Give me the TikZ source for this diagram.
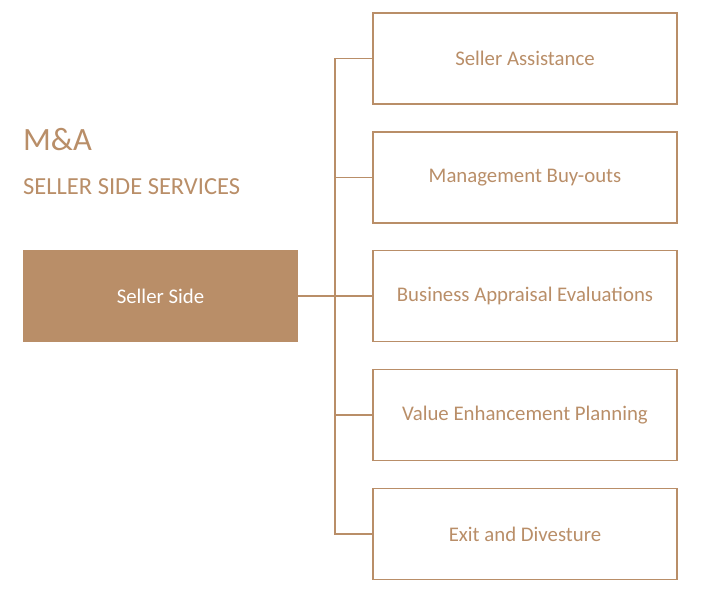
\documentclass[tikz,border=0pt]{standalone}
\usepackage{fontspec}
\setmainfont{Carlito}
\definecolor{tan}{HTML}{B98E68}
\begin{document}
\begin{tikzpicture}[x=1pt, y=-1pt,
    servicebox/.style = {draw=tan, line width=1.6pt, minimum width=304pt, minimum height=91pt,
                         inner sep=0pt, text=tan, font=\fontsize{20.8}{24}\selectfont},
    link/.style = {draw=tan, line width=1.6pt}]
    \useasboundingbox (0,0) rectangle (702,604);

    \node[anchor=base west, text=tan, inner sep=0pt, font=\fontsize{32.5}{36}\selectfont] (title) at (23,151) {M\&A};
    \node[anchor=base west, text=tan, inner sep=0pt, font=\fontsize{24.5}{28}\selectfont] (subtitle) at (23,195) {SELLER SIDE SERVICES};

    \node[fill=tan, minimum width=275pt, minimum height=92pt, inner sep=0pt,
          text=white, font=\fontsize{20.8}{24}\selectfont] (side) at (160.5,296) {Seller Side};

    \node[servicebox] (box1) at (525,58.5) {Seller Assistance};
    \node[servicebox] (box2) at (525,177.5) {Management Buy-outs};
    \node[servicebox] (box3) at (525,296) {Business Appraisal Evaluations};
    \node[servicebox] (box4) at (525,415) {Value Enhancement Planning};
    \node[servicebox] (box5) at (525,534) {Exit and Divesture};

    \coordinate (spine) at (335,0);
    \draw[link] (box1.west) -- (box1.west -| spine) -- (box5.west -| spine) -- (box5.west);
    \foreach \i in {2,3,4}
        \draw[link] (box\i.west) -- (box\i.west -| spine);
    \draw[link] (side.east) -- (box3.west);
\end{tikzpicture}
\end{document}
